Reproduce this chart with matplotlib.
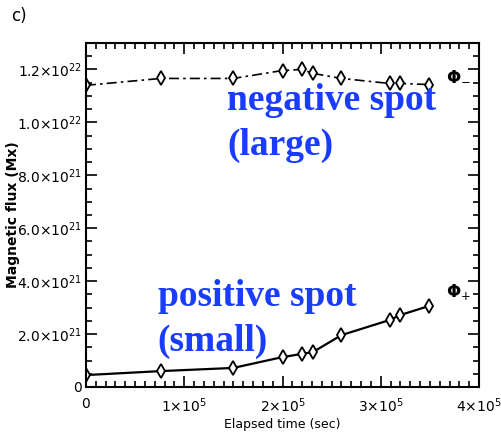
import matplotlib
matplotlib.use("Agg")
import matplotlib.pyplot as plt
from matplotlib.ticker import MultipleLocator, FixedLocator

# Data (elapsed time in sec, flux in Mx)
time_s = [0.0, 0.76e5, 1.5e5, 2.0e5, 2.2e5, 2.31e5, 2.6e5, 3.09e5, 3.2e5, 3.49e5]
flux_pos = [0.45e21, 0.60e21, 0.72e21, 1.13e21, 1.25e21, 1.32e21, 1.96e21, 2.53e21, 2.72e21, 3.06e21]
flux_neg = [1.14e22, 1.166e22, 1.166e22, 1.196e22, 1.20e22, 1.185e22, 1.166e22, 1.147e22, 1.147e22, 1.143e22]

xticks = [0, 1e5, 2e5, 3e5, 4e5]
xticklabels = ["0", r"$1{\times}10^5$", r"$2{\times}10^5$", r"$3{\times}10^5$", r"$4{\times}10^5$"]
yticks = [0, 2e21, 4e21, 6e21, 8e21, 1.0e22, 1.2e22]
yticklabels = ["0", r"$2.0{\times}10^{21}$", r"$4.0{\times}10^{21}$", r"$6.0{\times}10^{21}$",
               r"$8.0{\times}10^{21}$", r"$1.0{\times}10^{22}$", r"$1.2{\times}10^{22}$"]

plt.rcParams['font.family'] = ['DejaVu Sans']
plt.rcParams['mathtext.fontset'] = 'dejavusans'

fig = plt.figure(figsize=(5.02, 4.4), dpi=100)
ax = fig.add_axes([0.1713, 0.1205, 0.9542 - 0.1713, 0.9023 - 0.1205])

ax.plot(time_s, flux_neg, color='black', lw=1.2, linestyle=(0, (6, 2.5, 1.5, 2.5)),
        marker='d', markersize=7.5, mfc='white', mec='black', mew=1.3)
ax.plot(time_s, flux_pos, color='black', lw=1.6, linestyle='-',
        marker='d', markersize=7.5, mfc='white', mec='black', mew=1.3)

ax.set_xlim(0, 4e5)
ax.set_ylim(0, 1.3e22)

ax.xaxis.set_major_locator(FixedLocator(xticks))
ax.set_xticklabels(xticklabels)
ax.yaxis.set_major_locator(FixedLocator(yticks))
ax.set_yticklabels(yticklabels)
ax.xaxis.set_minor_locator(MultipleLocator(1e4))
ax.yaxis.set_minor_locator(MultipleLocator(5e20))

ax.tick_params(which='both', direction='in', top=True, right=True, labelsize=10, width=1.2)
ax.tick_params(which='major', length=8)
ax.tick_params(which='minor', length=4)
ax.tick_params(axis='y', which='major', pad=3)
ax.tick_params(axis='x', which='major', pad=7)
for s in ax.spines.values():
    s.set_linewidth(1.5)

ax.set_xlabel("Elapsed time (sec)", fontsize=9)
ax.set_ylabel("Magnetic flux (Mx)", fontsize=10, fontweight='bold')
ax.xaxis.set_label_coords(0.5, -0.09)
ax.yaxis.set_label_coords(-0.168, 0.5)

ax.text(3.66e5, 1.178e22, r"$\mathbf{\Phi}_{-}$", fontsize=12, ha='left', va='center')
ax.text(3.66e5, 3.6e21, r"$\mathbf{\Phi}_{+}$", fontsize=12, ha='left', va='center')

blue = '#1a3cff'
ax.text(1.44e5, 1.047e22, "negative spot", color=blue, fontsize=27, family='Liberation Serif',
        fontweight='bold', ha='left', va='baseline')
ax.text(1.44e5, 0.877e22, "(large)", color=blue, fontsize=27, family='Liberation Serif',
        fontweight='bold', ha='left', va='baseline')
ax.text(0.73e5, 3.06e21, "positive spot", color=blue, fontsize=27, family='Liberation Serif',
        fontweight='bold', ha='left', va='baseline')
ax.text(0.73e5, 1.36e21, "(small)", color=blue, fontsize=27, family='Liberation Serif',
        fontweight='bold', ha='left', va='baseline')

fig.text(0.022, 0.963, "c)", fontsize=12, ha='left', va='center')

fig.savefig("out.png", dpi=100)
